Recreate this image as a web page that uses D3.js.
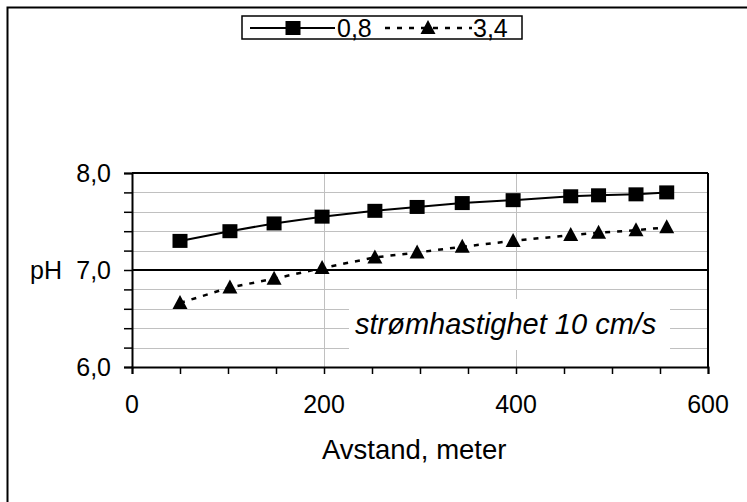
<!DOCTYPE html>
<html><head><meta charset="utf-8">
<script src="https://cdn.jsdelivr.net/npm/d3@7"></script>
<style>body{margin:0;background:#fff}svg{display:block}text{font-family:Arial,"Liberation Sans",sans-serif;fill:#000}</style>
</head><body>
<script>
const distances = [50, 102, 148, 198, 253, 297, 344, 397, 457, 486, 525, 557];
const series08 = [7.30, 7.40, 7.48, 7.55, 7.61, 7.65, 7.69, 7.72, 7.76, 7.77, 7.78, 7.80];
const series34 = [6.66, 6.82, 6.91, 7.02, 7.13, 7.18, 7.24, 7.30, 7.36, 7.385, 7.41, 7.44];
const seriesNames = ["0,8", "3,4"];
const xTickLabels = [0, 200, 400, 600];
const yTickLabels = [6, 7, 8];
const annotation = "strømhastighet 10 cm/s";
const xTitle = "Avstand, meter";
const yTitle = "pH";

const W = 747, H = 502, FS = 25;
const svg = d3.select("body").append("svg").attr("width", W).attr("height", H);
const L = 132, R = 708, T = 173, B = 367;
const x = d3.scaleLinear().domain([0, 600]).range([L, R]);
const y = d3.scaleLinear().domain([6, 8]).range([B, T]);

// outer frame (cropped at right/bottom)
svg.append("path").attr("d", `M7.5,${H} V7.5 H${W}`).attr("fill", "none").attr("stroke", "#000").attr("stroke-width", 2);

// gray gridlines
const g = svg.append("g");
g.selectAll("line.hg").data(d3.range(6.2, 8.0, 0.2).filter(v => Math.abs(v - 7) > 0.01))
  .join("line").attr("x1", L).attr("x2", R).attr("y1", d => Math.round(y(d)) + 0.5).attr("y2", d => Math.round(y(d)) + 0.5)
  .attr("stroke", "#c0c0c0").attr("stroke-width", 1);
g.selectAll("line.vg").data([200, 400])
  .join("line").attr("x1", d => Math.round(x(d)) + 0.5).attr("x2", d => Math.round(x(d)) + 0.5).attr("y1", T).attr("y2", B)
  .attr("stroke", "#c0c0c0").attr("stroke-width", 1);

// annotation box (white, covers gridlines)
svg.append("rect").attr("x", 349).attr("y", 299).attr("width", 321).attr("height", 51).attr("fill", "#fff");

// black major lines
svg.append("line").attr("x1", L).attr("x2", R).attr("y1", y(7)).attr("y2", y(7)).attr("stroke", "#000").attr("stroke-width", 2);
svg.append("line").attr("x1", L).attr("x2", R).attr("y1", y(8)).attr("y2", y(8)).attr("stroke", "#000").attr("stroke-width", 2);
svg.append("line").attr("x1", R).attr("x2", R).attr("y1", T).attr("y2", B).attr("stroke", "#000").attr("stroke-width", 2);

// axes
const xAxis = d3.axisBottom(x).tickValues(d3.range(0, 601, 50)).tickSize(7).tickFormat("");
const xa = svg.append("g").attr("transform", `translate(0,${B})`).call(xAxis);
xa.select(".domain").attr("stroke-width", 2);
xa.selectAll(".tick line").attr("stroke-width", 1.5);
svg.append("g").selectAll("text").data(xTickLabels).join("text")
  .attr("x", d => x(d)).attr("y", 413).attr("text-anchor", "middle").attr("font-size", FS).text(d => d);

const yAxis = d3.axisLeft(y).tickValues(d3.range(6, 8.01, 0.2)).tickSize(8).tickFormat("");
const ya = svg.append("g").attr("transform", `translate(${L},0)`).call(yAxis);
ya.select(".domain").attr("stroke-width", 2);
ya.selectAll(".tick line").attr("stroke-width", 1.5);
svg.append("g").selectAll("text").data(yTickLabels).join("text")
  .attr("x", 111).attr("y", d => y(d) + 9).attr("text-anchor", "end").attr("font-size", FS)
  .text(d => d.toFixed(1).replace(".", ","));
svg.append("text").attr("x", 30).attr("y", y(7) + 9).attr("font-size", FS).text(yTitle);
svg.append("text").attr("x", 322).attr("y", 459).attr("font-size", 27.5).text(xTitle);

// annotation text
svg.append("text").attr("x", 355).attr("y", 334).attr("font-size", 29).attr("font-style", "italic").text(annotation);

// series
const line = d3.line().x(d => x(d[0])).y(d => y(d[1]));
const d08 = distances.map((d, i) => [d, series08[i]]);
const d34 = distances.map((d, i) => [d, series34[i]]);
svg.append("path").datum(d08).attr("d", line).attr("fill", "none").attr("stroke", "#000").attr("stroke-width", 2);
svg.append("path").datum(d34).attr("d", line).attr("fill", "none").attr("stroke", "#000").attr("stroke-width", 2.5).attr("stroke-dasharray", "5,7");

svg.append("g").selectAll("rect").data(d08).join("rect")
  .attr("x", d => x(d[0]) - 7.5).attr("y", d => y(d[1]) - 7).attr("width", 15).attr("height", 14).attr("fill", "#000");
const triAt = (cx, cy) => `M${cx},${cy - 8} L${cx + 7.5},${cy + 6} L${cx - 7.5},${cy + 6} Z`;
svg.append("g").selectAll("path").data(d34).join("path").attr("d", d => triAt(x(d[0]), y(d[1]))).attr("fill", "#000");

// legend
const lg = svg.append("g");
lg.append("rect").attr("x", 242).attr("y", 16).attr("width", 280).attr("height", 23).attr("fill", "#fff").attr("stroke", "#000").attr("stroke-width", 1.5);
const ly = 28;
lg.append("line").attr("x1", 250).attr("x2", 335).attr("y1", ly).attr("y2", ly).attr("stroke", "#000").attr("stroke-width", 2);
lg.append("rect").attr("x", 293 - 7.5).attr("y", ly - 7).attr("width", 15).attr("height", 14).attr("fill", "#000");
lg.append("text").attr("x", 337).attr("y", ly + 9).attr("font-size", FS).text(seriesNames[0]);
lg.append("line").attr("x1", 385).attr("x2", 472).attr("y1", ly).attr("y2", ly).attr("stroke", "#000").attr("stroke-width", 2.5).attr("stroke-dasharray", "5,7");
lg.append("path").attr("d", triAt(428, ly)).attr("fill", "#000");
lg.append("text").attr("x", 473).attr("y", ly + 9).attr("font-size", FS).text(seriesNames[1]);
</script>
</body></html>
